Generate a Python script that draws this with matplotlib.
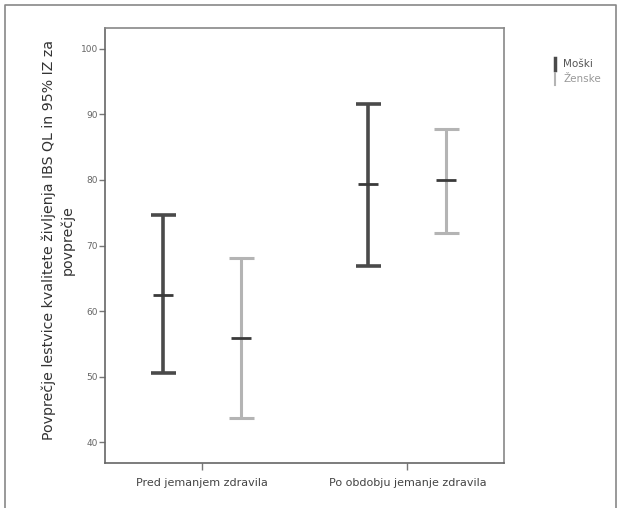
import numpy as np
import matplotlib.pyplot as plt
from matplotlib.lines import Line2D

categories = ['Pred jemanjem zdravila', 'Po obdobju jemanje zdravila']
groups = ['Moški', 'Ženske']

# mean, lower and upper 95% CI
moski_mean = [62.4, 79.4]
moski_low = [50.5, 66.9]
moski_high = [74.7, 91.6]

zenske_mean = [55.9, 80.0]
zenske_low = [43.7, 71.9]
zenske_high = [68.1, 87.8]

yticks = [40, 50, 60, 70, 80, 90, 100]

colors = ['#4a4a4a', '#b4b4b4']
offset = 0.19

fig = plt.figure(figsize=(6.21, 5.08), dpi=100)
ax = fig.add_axes([105 / 621, 1 - 463 / 508, 399 / 621, 435 / 508])

x = np.arange(len(categories))
data = [(moski_mean, moski_low, moski_high), (zenske_mean, zenske_low, zenske_high)]
for i, (m, lo, hi) in enumerate(data):
    m = np.array(m)
    err = [m - np.array(lo), np.array(hi) - m]
    xs = x + (i * 2 - 1) * offset
    lw = 2.6 if i == 0 else 2.2
    ax.errorbar(xs, m, yerr=err, fmt='none', ecolor=colors[i], elinewidth=lw,
                capsize=9, capthick=lw)
    ax.scatter(xs, m, marker='_', s=200, color='#3a3a3a', linewidths=2.0, zorder=3)

ax.set_xlim(-0.47, 1.47)
ax.set_ylim(36.8, 103.2)
ax.set_yticks(yticks)
ax.set_yticklabels([str(v) for v in yticks], fontsize=6.5, color='#666666')
ax.set_xticks(x)
ax.set_xticklabels(categories, fontsize=8, color='#444444')
ax.tick_params(axis='y', length=4, width=1, color='#777777', pad=1)
ax.tick_params(axis='x', length=5, width=1, color='#777777', pad=6)
for sp in ax.spines.values():
    sp.set_color('#888888')
    sp.set_linewidth(1.2)
ax.spines['left'].set_color('#666666')
ax.spines['bottom'].set_color('#666666')

fig.text(58 / 621, 1 - 240 / 508,
         'Povprečje lestvice kvalitete življenja IBS QL in 95% IZ za\npovprečje',
         rotation=90, ha='center', va='center', fontsize=10.2, color='#333333',
         linespacing=1.35)

# legend
for j, g in enumerate(groups):
    yy = 1 - (64 + j * 15) / 508
    fig.text(563 / 621, yy, g, fontsize=7.5, color='#555555' if j == 0 else '#999999',
             ha='left', va='center')
    fig.lines.append(Line2D([555 / 621, 555 / 621], [yy - 0.011, yy + 0.011],
                            transform=fig.transFigure, color=colors[j], lw=2.5 if j == 0 else 1.5))

# outer frame
fig.lines.append(Line2D([5 / 621, 5 / 621, 616 / 621, 616 / 621],
                        [0, 1 - 5 / 508, 1 - 5 / 508, 0],
                        transform=fig.transFigure, color='#888888', lw=1.2))

fig.savefig('out.png', dpi=100)
